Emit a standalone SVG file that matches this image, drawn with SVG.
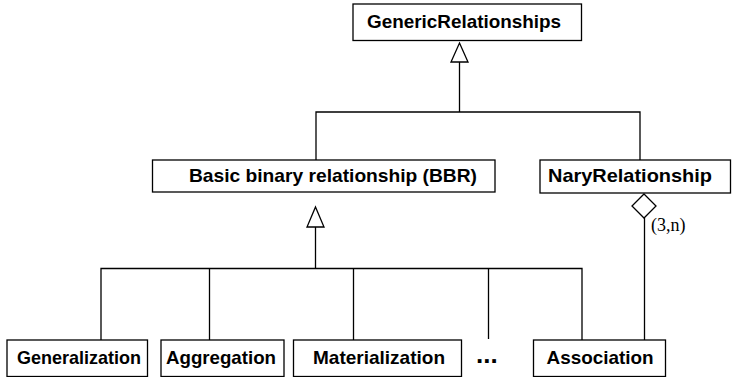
<svg xmlns="http://www.w3.org/2000/svg" width="736" height="377" viewBox="0 0 736 377">
  <style>
    .box { fill: #ffffff; stroke: #000000; stroke-width: 1.3; }
    .lbl { font-family: "Liberation Sans", Arial, Helvetica, sans-serif; font-weight: bold; font-size: 18.5px; fill: #000000; }
    .wire { fill: none; stroke: #000000; stroke-width: 1.3; }
    .head { fill: #ffffff; stroke: #000000; stroke-width: 1.3; }
    .mult { font-family: "Liberation Serif", "Times New Roman", serif; font-size: 18px; fill: #000000; }
  </style>

  <rect width="736" height="377" fill="#ffffff"/>

  <!-- connectors -->
  <g id="connectors">
    <!-- generalization: BBR and NaryRelationship up to GenericRelationships -->
    <polyline class="wire" points="316,160 316,112 640,112 640,160"/>
    <line class="wire" x1="459.5" y1="112" x2="459.5" y2="62"/>
    <polygon class="head" points="459.5,43 468,62 451,62"/>

    <!-- generalization: specific kinds up to BBR -->
    <polyline class="wire" points="101,340 101,268.5 582,268.5 582,340"/>
    <line class="wire" x1="209.5" y1="268.5" x2="209.5" y2="340"/>
    <line class="wire" x1="353.5" y1="268.5" x2="353.5" y2="340"/>
    <line class="wire" x1="488.5" y1="268.5" x2="488.5" y2="339"/>
    <line class="wire" x1="315.5" y1="268.5" x2="315.5" y2="227"/>
    <polygon class="head" points="315.5,207 324,227 307,227"/>

    <!-- aggregation: Association as part of NaryRelationship -->
    <line class="wire" x1="644.5" y1="218" x2="644.5" y2="340"/>
    <polygon class="head" points="644,194 656,206 644,218 632,206"/>
    <text class="mult" x="651" y="231">(3,n)</text>
  </g>

  <g id="generic-relationships">
    <rect class="box" x="353" y="4" width="228.5" height="36.5"/>
    <text class="lbl" x="367" y="28" textLength="194" lengthAdjust="spacingAndGlyphs">GenericRelationships</text>
  </g>

  <g id="basic-binary-relationship">
    <rect class="box" x="152.5" y="160" width="342.5" height="32"/>
    <text class="lbl" x="189" y="182" textLength="288" lengthAdjust="spacingAndGlyphs">Basic binary relationship (BBR)</text>
  </g>

  <g id="nary-relationship">
    <rect class="box" x="540" y="160" width="190.5" height="33"/>
    <text class="lbl" x="548" y="182" textLength="164" lengthAdjust="spacingAndGlyphs">NaryRelationship</text>
  </g>

  <g id="generalization">
    <rect class="box" x="7" y="340" width="140.5" height="36.5"/>
    <text class="lbl" x="17" y="364" textLength="124" lengthAdjust="spacingAndGlyphs">Generalization</text>
  </g>

  <g id="aggregation">
    <rect class="box" x="161" y="340" width="123" height="36.5"/>
    <text class="lbl" x="166" y="364" textLength="110" lengthAdjust="spacingAndGlyphs">Aggregation</text>
  </g>

  <g id="materialization">
    <rect class="box" x="293.5" y="340" width="168" height="36.5"/>
    <text class="lbl" x="313" y="364" textLength="132" lengthAdjust="spacingAndGlyphs">Materialization</text>
  </g>

  <g id="more-kinds">
    <text class="lbl" x="476" y="363" style="font-size:26px">...</text>
  </g>

  <g id="association">
    <rect class="box" x="533.5" y="340" width="132" height="36.5"/>
    <text class="lbl" x="546.5" y="364" textLength="107" lengthAdjust="spacingAndGlyphs">Association</text>
  </g>
</svg>
